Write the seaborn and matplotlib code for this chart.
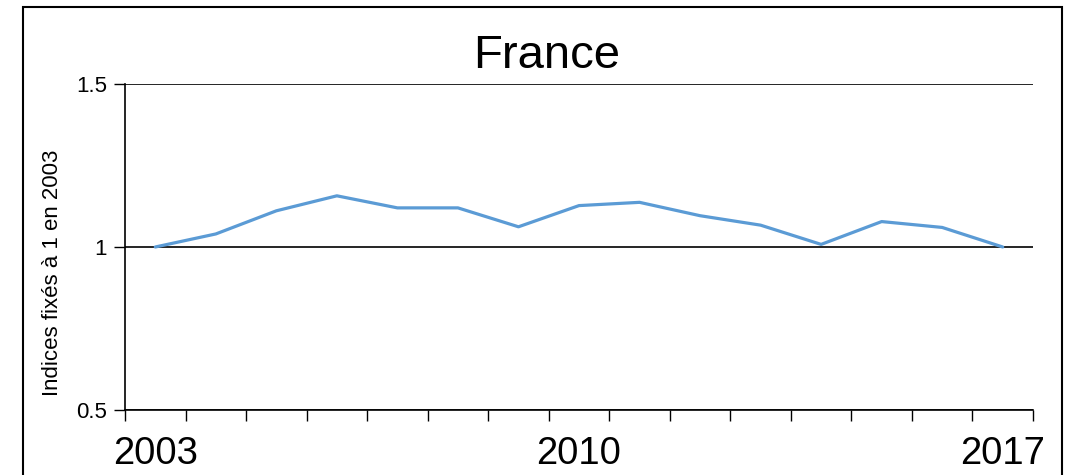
import seaborn as sns
import matplotlib.pyplot as plt
from matplotlib.patches import Rectangle
import pandas as pd

# values (index, 2003 = 1)
years = list(range(2003, 2018))
index_values = [1.000, 1.040, 1.111, 1.157, 1.120, 1.120, 1.062, 1.127,
                1.137, 1.096, 1.067, 1.008, 1.078, 1.060, 1.000]
shown_years = [2003, 2010, 2017]

df = pd.DataFrame({"year": years, "indice": index_values})

sns.set_style("white")
plt.rcParams["font.family"] = ["Liberation Sans", "DejaVu Sans"]
plt.rcParams["text.color"] = "black"
plt.rcParams["xtick.color"] = "black"
plt.rcParams["ytick.color"] = "black"
plt.rcParams["axes.labelcolor"] = "black"

fig = plt.figure(figsize=(10.71, 4.75), dpi=100)
ax = fig.add_axes([125 / 1071, 1 - 410 / 475, (1033 - 125) / 1071, (410 - 84) / 475])

# outer frame
fig.patches.append(Rectangle((23 / 1071, -0.05), (1062 - 23) / 1071, 1.05 - 7 / 475,
                             transform=fig.transFigure, fill=False,
                             edgecolor="black", linewidth=1.5))

sns.lineplot(data=df, x="year", y="indice", color="#5b9bd5", linewidth=2.3, ax=ax)

ax.set_xlim(2002.5, 2017.5)
ax.set_ylim(0.5, 1.5)

ax.set_xticks(shown_years)
ax.set_xticklabels([str(y) for y in shown_years], fontsize=27.5)
ax.set_xticks([y - 0.5 for y in years] + [2017.5], minor=True)
ax.tick_params(axis="x", which="major", length=0, pad=19)
ax.tick_params(axis="x", which="minor", bottom=True, length=8, width=1, color="black",
               direction="out")

ax.set_yticks([0.5, 1, 1.5])
ax.set_yticklabels(["0.5", "1", "1.5"], fontsize=16)
ax.tick_params(axis="y", left=True, length=8, width=1, color="black",
               direction="out", pad=5)

ax.yaxis.grid(True, color="black", linewidth=1.2)
ax.set_axisbelow(True)

for side in ["top", "right"]:
    ax.spines[side].set_visible(False)
for side in ["left", "bottom"]:
    ax.spines[side].set_color("black")
    ax.spines[side].set_linewidth(1.2)

ax.set_xlabel("")
ax.set_ylabel("Indices fixés à 1 en 2003", fontsize=16)
ax.yaxis.set_label_coords(-0.068, 0.42)

fig.text(547 / 1071, 1 - 68 / 475, "France", fontsize=34, ha="center", va="baseline")

fig.savefig("out.png", dpi=100)
